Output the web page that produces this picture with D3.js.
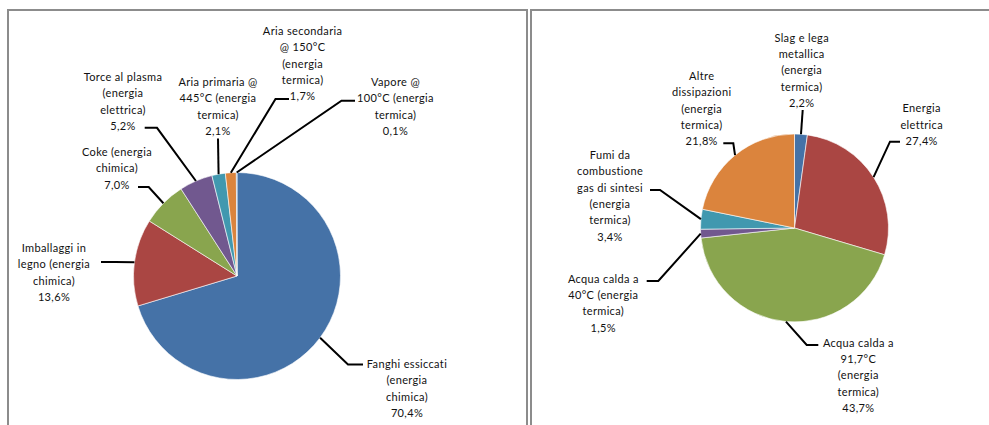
<!DOCTYPE html>
<html>
<head>
<meta charset="utf-8">
<script src="https://cdn.jsdelivr.net/npm/d3@7"></script>
<style>
  html, body { margin: 0; padding: 0; background: #fff; }
  svg { display: block; }
  text { font-family: Lato, "Liberation Sans", sans-serif; font-size: 11px; fill: #111; letter-spacing: 0.35px; }
</style>
</head>
<body>
<svg id="chart" width="989" height="425"></svg>
<script>
// ---------- DATA ----------
const leftCategories = [
  "Fanghi essiccati (energia chimica)",
  "Imballaggi in legno (energia chimica)",
  "Coke (energia chimica)",
  "Torce al plasma (energia elettrica)",
  "Aria primaria @ 445°C (energia termica)",
  "Aria secondaria @ 150°C (energia termica)",
  "Vapore @ 100°C (energia termica)"
];
const leftValues = [70.4, 13.6, 7.0, 5.2, 2.1, 1.7, 0.1];
const leftLabelLines = [
  ["Fanghi essiccati", "(energia", "chimica)", "70,4%"],
  ["Imballaggi in", "legno (energia", "chimica)", "13,6%"],
  ["Coke (energia", "chimica)", "7,0%"],
  ["Torce al plasma", "(energia", "elettrica)", "5,2%"],
  ["Aria primaria @", "445°C (energia", "termica)", "2,1%"],
  ["Aria secondaria", "@ 150°C", "(energia", "termica)", "1,7%"],
  ["Vapore @", "100°C (energia", "termica)", "0,1%"]
];

const rightCategories = [
  "Slag e lega metallica (energia termica)",
  "Energia elettrica",
  "Acqua calda a 91,7°C (energia termica)",
  "Acqua calda a 40°C (energia termica)",
  "Fumi da combustione gas di sintesi (energia termica)",
  "Altre dissipazioni (energia termica)"
];
const rightValues = [2.2, 27.4, 43.7, 1.5, 3.4, 21.8];
const rightLabelLines = [
  ["Slag e lega", "metallica", "(energia", "termica)", "2,2%"],
  ["Energia", "elettrica", "27,4%"],
  ["Acqua calda a", "91,7°C", "(energia", "termica)", "43,7%"],
  ["Acqua calda a", "40°C (energia", "termica)", "1,5%"],
  ["Fumi da", "combustione", "gas di sintesi", "(energia", "termica)", "3,4%"],
  ["Altre", "dissipazioni", "(energia", "termica)", "21,8%"]
];

const palette = ["#4572A7", "#AA4643", "#89A54E", "#71588F", "#4198AF", "#DB843D", "#4572A7"];

// ---------- LAYOUT ----------
const lineH = 16.3;
// label layout: x = text centre x, y = first line centre y, leader = [labelSide, elbow]
const leftLayout = {
  cx: 237, cy: 276, r: 103.5,
  labels: [
    { x: 407, y: 363, leader: [[363, 364.5], [348, 364.5]] },
    { x: 54,  y: 247, leader: [[101, 262], [115, 262]] },
    { x: 117, y: 151, leader: [[138, 187], [148.7, 187]] },
    { x: 123, y: 76,  leader: [[144.7, 127.8], [157, 127.8]] },
    { x: 218, y: 81,  leader: [[218, 138.6], [218, 138.6]] },
    { x: 302.6, y: 30, leader: [[289, 99], [275.5, 99]] },
    { x: 395.5, y: 81, leader: [[355, 100.7], [341.5, 100.7]] }
  ]
};
const rightLayout = {
  cx: 794.5, cy: 228, r: 94,
  labels: [
    { x: 801.7, y: 36.7, leader: [[802.7, 110], [802.7, 110]] },
    { x: 921.7, y: 107.3, leader: [[900, 141.7], [890, 141.7]] },
    { x: 858.3, y: 341.7, leader: [[818.3, 345], [806.7, 345]] },
    { x: 603.3, y: 277.7, leader: [[646.7, 281], [658.3, 281]] },
    { x: 610, y: 154, leader: [[650, 190], [660, 190]] },
    { x: 701.7, y: 75, leader: [[723.3, 143.3], [733.3, 143.3]] }
  ]
};

const svg = d3.select("#chart");

// panel borders
const border = svg.append("g").attr("fill", "none").attr("stroke", "#8c8c8c").attr("stroke-width", 2);
border.append("rect").attr("x", 8).attr("y", 10).attr("width", 519).attr("height", 440);
border.append("rect").attr("x", 531).attr("y", 10).attr("width", 470).attr("height", 440);

function drawPie(values, lines, layout, colors) {
  const g = svg.append("g");
  const pie = d3.pie().sort(null).value(d => d)(values);
  const arc = d3.arc().innerRadius(0).outerRadius(layout.r);
  const pg = g.append("g").attr("transform", `translate(${layout.cx},${layout.cy})`);
  pg.selectAll("path").data(pie).join("path")
    .attr("d", arc)
    .attr("fill", (d, i) => colors[i])
    .attr("stroke", "#fff")
    .attr("stroke-width", 0.6);

  // leader lines and labels
  const lineGen = d3.line();
  pie.forEach((d, i) => {
    const L = layout.labels[i];
    const mid = (d.startAngle + d.endAngle) / 2;
    const px = layout.cx + layout.r * Math.sin(mid);
    const py = layout.cy - layout.r * Math.cos(mid);
    g.append("path")
      .attr("d", lineGen([L.leader[0], L.leader[1], [px, py]]))
      .attr("fill", "none")
      .attr("stroke", "#000")
      .attr("stroke-width", 2);
    const t = g.append("text")
      .attr("text-anchor", "middle")
      .attr("dominant-baseline", "central");
    lines[i].forEach((s, j) => {
      t.append("tspan").attr("x", L.x).attr("y", L.y + j * lineH).text(s);
    });
  });
}

drawPie(leftValues, leftLabelLines, leftLayout, palette);
drawPie(rightValues, rightLabelLines, rightLayout, palette);
</script>
</body>
</html>
